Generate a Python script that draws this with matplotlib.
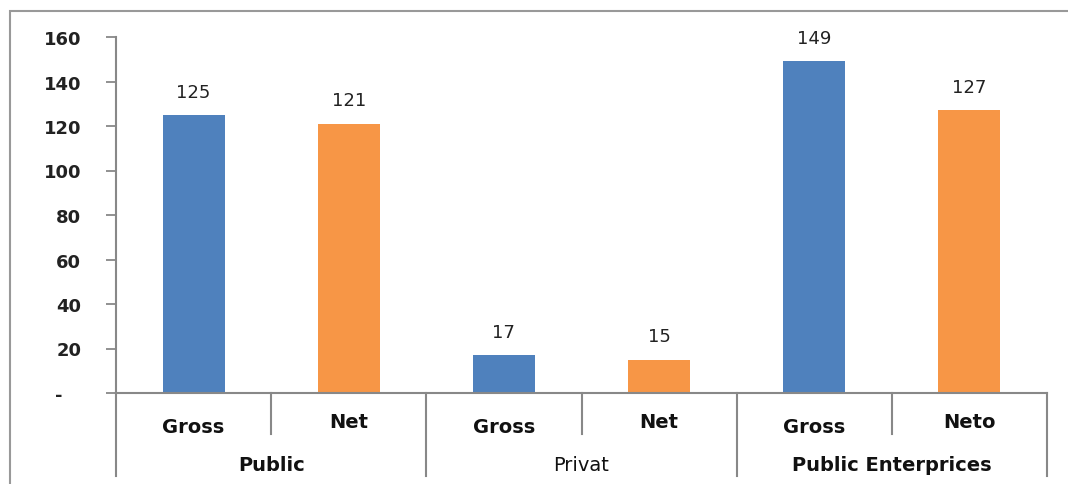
import matplotlib.pyplot as plt
from matplotlib.patches import Rectangle

# data
groups = ["Public", "Privat", "Public Enterprices"]
group_bold = [True, False, True]
sub_labels = ["Gross", "Net", "Gross", "Net", "Gross", "Neto"]
values = [125, 121, 17, 15, 149, 127]
bar_colors = ["#4F81BD", "#F79646"] * 3
yticks = [0, 20, 40, 60, 80, 100, 120, 140, 160]
ytick_labels = ["-   "] + [str(v) for v in yticks[1:]]

W, H = 1068, 485
fig = plt.figure(figsize=(W / 100, H / 100), dpi=100)
ax = fig.add_axes([116 / W, (H - 394) / H, (1047 - 116) / W, 356 / H])

x = list(range(len(values)))
ax.bar(x, values, width=0.4, color=bar_colors)
for xi, v in zip(x, values):
    ax.text(xi, v + 10.5, str(v), ha="center", va="center", fontsize=13, color="#222222")

ax.set_xlim(-0.5, len(values) - 0.5)
ax.set_ylim(0, 160)
ax.set_yticks(yticks)
ax.set_yticklabels(ytick_labels, fontsize=13, fontweight="bold", color="#222222")
ax.tick_params(axis="y", length=7, width=1.3, color="#888888", pad=18)
ax.set_xticks([])

for s in ["top", "right"]:
    ax.spines[s].set_visible(False)
for s in ["left", "bottom"]:
    ax.spines[s].set_color("#888888")
    ax.spines[s].set_linewidth(1.5)

# two level category axis
trans = ax.get_xaxis_transform()
for i in range(len(values) + 1):
    xs = i - 0.5
    low = -0.233 if i % 2 == 0 else -0.115
    ax.plot([xs, xs], [0, low], transform=trans, color="#888888", lw=1.5, clip_on=False)

for xi, lab in zip(x, sub_labels):
    yy = -0.095 if lab == "Gross" else -0.08
    ax.text(xi, yy, lab, transform=trans, ha="center", va="center",
            fontsize=14, fontweight="bold", color="#111111")

for gi, g in enumerate(groups):
    ax.text(gi * 2 + 0.5, -0.2, g, transform=trans, ha="center", va="center",
            fontsize=14, fontweight="bold" if group_bold[gi] else "normal", color="#111111")

# outer border
fig.add_artist(Rectangle((10 / W, -0.05), 1.1, 1 - 12 / H + 0.05, transform=fig.transFigure,
                         fill=False, ec="#999999", lw=1.5))

fig.savefig("out.png", dpi=100)
